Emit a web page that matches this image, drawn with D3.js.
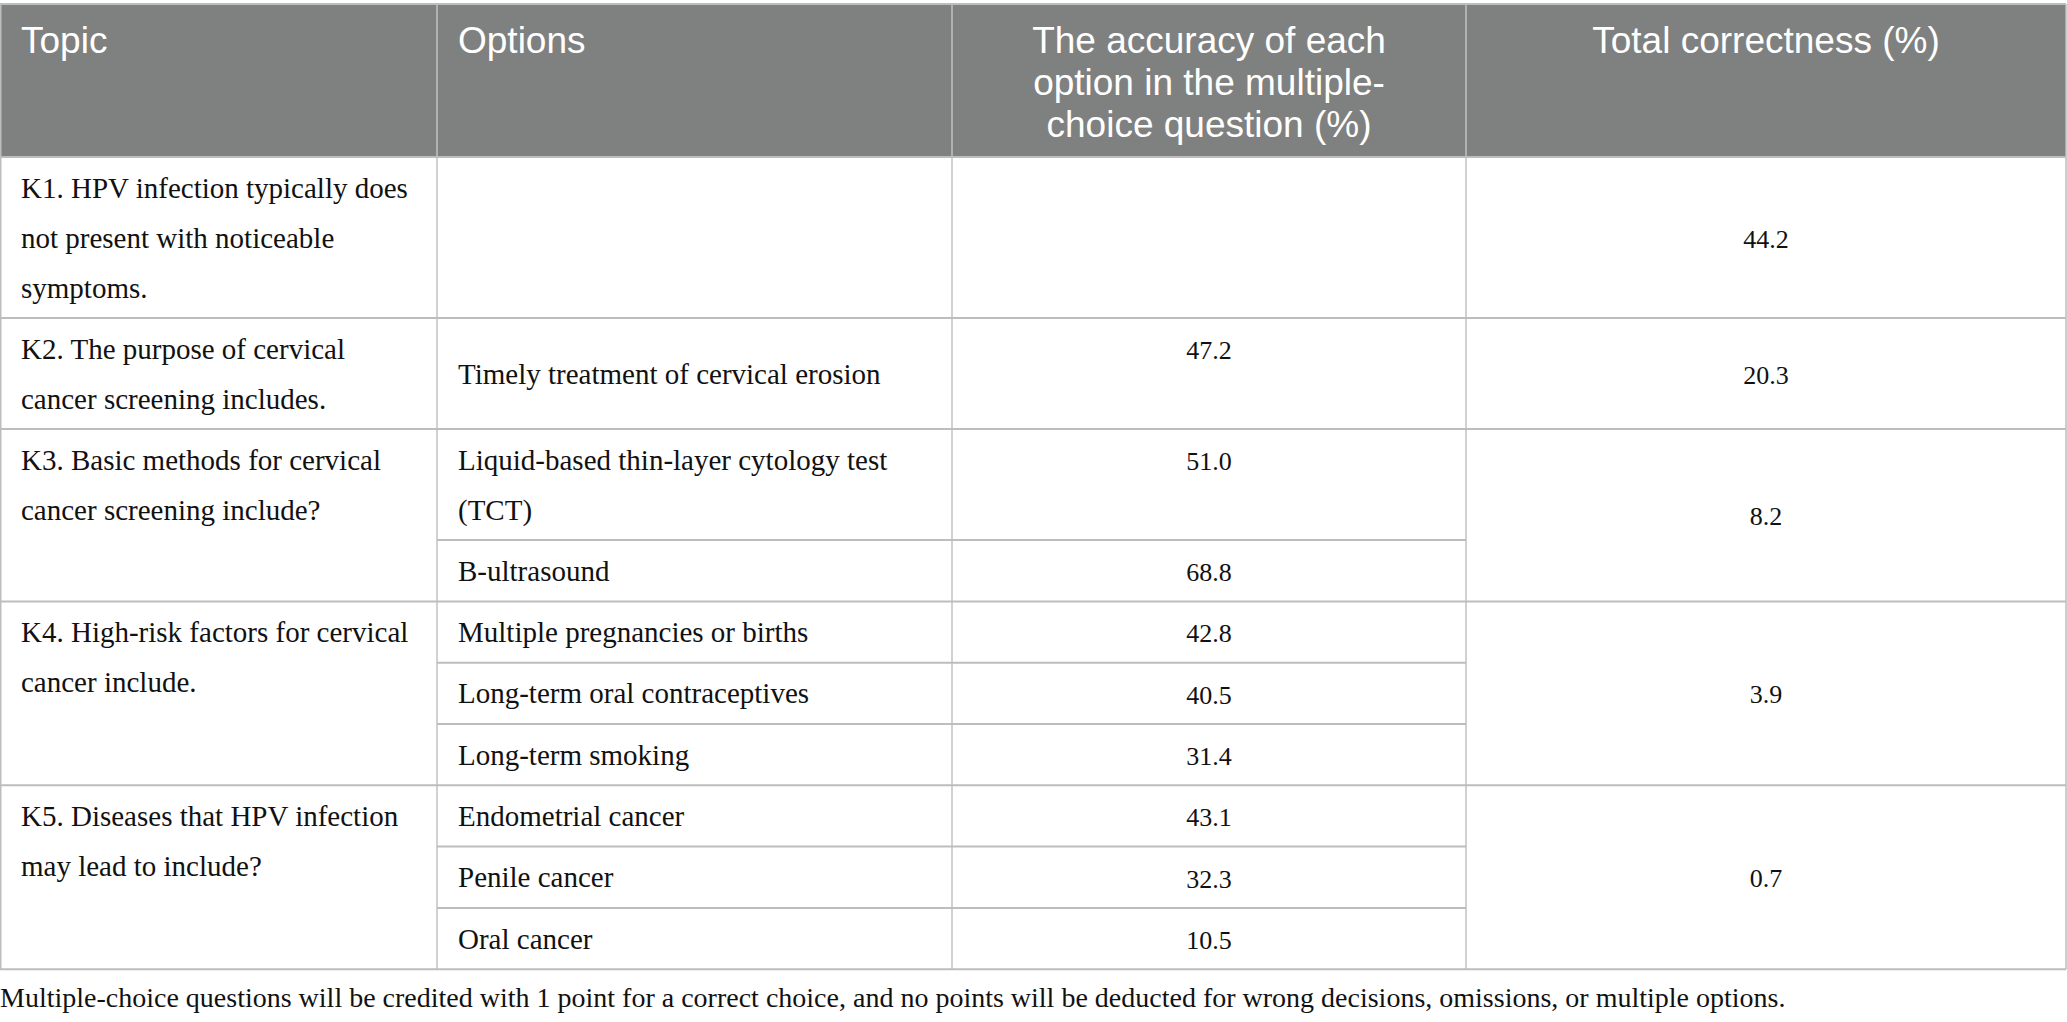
<!DOCTYPE html>
<html>
<head>
<meta charset="utf-8">
<script src="https://cdn.jsdelivr.net/npm/d3@7"></script>
<style>
  body { margin: 0; background: #fff; }
  svg { display: block; }
</style>
</head>
<body>
<div id="chart"></div>
<script>
//Table content
const headers = [
    ["Topic"],
    ["Options"],
    ["The accuracy of each", "option in the multiple-", "choice question (%)"],
    ["Total correctness (%)"]
]

const topics = [
    ["K1. HPV infection typically does", "not present with noticeable", "symptoms."],
    ["K2. The purpose of cervical", "cancer screening includes."],
    ["K3. Basic methods for cervical", "cancer screening include?"],
    ["K4. High-risk factors for cervical", "cancer include."],
    ["K5. Diseases that HPV infection", "may lead to include?"]
]

//one entry per option row, each option may wrap on several lines
const options = [
    [[]],
    [["Timely treatment of cervical erosion"]],
    [["Liquid-based thin-layer cytology test", "(TCT)"], ["B-ultrasound"]],
    [["Multiple pregnancies or births"], ["Long-term oral contraceptives"], ["Long-term smoking"]],
    [["Endometrial cancer"], ["Penile cancer"], ["Oral cancer"]]
]

const optionAccuracy = [
    [null],
    [47.2],
    [51.0, 68.8],
    [42.8, 40.5, 31.4],
    [43.1, 32.3, 10.5]
]

const totalCorrectness = [44.2, 20.3, 8.2, 3.9, 0.7]

const footnote = "Multiple-choice questions will be credited with 1 point for a correct choice, and no points will be deducted for wrong decisions, omissions, or multiple options."

//Layout constants
const width = 2067
const height = 1022
const headerTop = 4
const headerBottom = 157
const lineHeight = 49.8
const cellPad = 11.5
const topOffset = 41   //first baseline below a cell top
const lineAscent = 35  //baseline inside a line box
const gridColor = "#c2c2c2"
const serif = "'Liberation Serif', 'Times New Roman', serif"

const x = d3.scaleOrdinal()
    .domain([0, 1, 2, 3, 4])
    .range([0, 437, 952, 1466, 2066])
const colCenter = i => (x(i) + x(i + 1)) / 2
const fmt = d3.format(".1f")

//Build the sub rows: every option row gets a height from its number of lines
const rows = []
let yPos = headerBottom
topics.forEach((t, k) => {
    const nSub = options[k].length
    const subs = options[k].map((opt, j) => {
        let lines = Math.max(opt.length, 1)
        if (nSub == 1) lines = Math.max(lines, t.length)
        const h = lines * lineHeight + cellPad
        const sub = { y0: yPos, y1: yPos + h, lines: opt, value: optionAccuracy[k][j] }
        yPos += h
        return sub
    })
    rows.push({ topic: t, total: totalCorrectness[k], subs: subs, y0: subs[0].y0, y1: subs[subs.length - 1].y1 })
})
const tableBottom = yPos

const svg = d3.select("#chart")
    .append("svg")
    .attr("width", width)
    .attr("height", height)

//header band
svg.append("rect")
    .attr("x", 0)
    .attr("y", headerTop)
    .attr("width", x(4))
    .attr("height", headerBottom - headerTop)
    .attr("fill", "#7f8180")

const grid = svg.append("g")
    .attr("stroke", gridColor)

//vertical lines
grid.selectAll(".vline")
    .data([0, 1, 2, 3, 4])
    .enter().append("line")
    .attr("class", "vline")
    .attr("x1", d => d == 0 ? 0.75 : x(d))
    .attr("x2", d => d == 0 ? 0.75 : x(d))
    .attr("y1", headerTop)
    .attr("y2", tableBottom)
    .attr("stroke-width", 1.5)
    .attr("stroke", d => (d == 0 || d == 4) ? "#bdbdbd" : gridColor)

//horizontal lines across the full table
const fullLines = [headerTop, headerBottom].concat(rows.map(r => r.y1))
grid.selectAll(".hline")
    .data(fullLines)
    .enter().append("line")
    .attr("class", "hline")
    .attr("x1", 0)
    .attr("x2", x(4))
    .attr("y1", d => d)
    .attr("y2", d => d)
    .attr("stroke-width", 2)
    .attr("stroke", "#bdbdbd")

//lines between option rows (columns 2 and 3 only)
const subLines = rows.flatMap(r => r.subs.slice(0, -1).map(s => s.y1))
grid.selectAll(".subline")
    .data(subLines)
    .enter().append("line")
    .attr("class", "subline")
    .attr("x1", x(1))
    .attr("x2", x(3))
    .attr("y1", d => d)
    .attr("y2", d => d)
    .attr("stroke-width", 2)
    .attr("stroke", "#bdbdbd")

//header text
const headG = svg.append("g")
    .attr("font-family", "'Liberation Sans', Arial, sans-serif")
    .attr("font-size", 37)
    .attr("fill", "#fff")

headers.forEach((h, i) => {
    const centered = i >= 2
    h.forEach((line, j) => {
        headG.append("text")
            .attr("x", centered ? colCenter(i) : x(i) + 21)
            .attr("y", 53 + j * 42)
            .attr("text-anchor", centered ? "middle" : "start")
            .text(line)
    })
})

//body text
const body = svg.append("g")
    .attr("font-family", serif)
    .attr("font-size", 29)
    .attr("fill", "#111")

//vertically centred block of lines in a cell
function centredLines(g, lines, y0, y1, xx, anchor, size) {
    const top = (y0 + y1) / 2 - lines.length * lineHeight / 2
    lines.forEach((line, j) => {
        g.append("text")
            .attr("x", xx)
            .attr("y", top + lineAscent + j * lineHeight)
            .attr("text-anchor", anchor)
            .attr("font-size", size)
            .text(line)
    })
}

rows.forEach(r => {
    //topic, top aligned
    r.topic.forEach((line, j) => {
        body.append("text")
            .attr("x", x(0) + 21)
            .attr("y", r.y0 + topOffset + j * lineHeight)
            .text(line)
    })
    r.subs.forEach(s => {
        centredLines(body, s.lines, s.y0, s.y1, x(1) + 21, "start", 29)
        if (s.value != null) {
            body.append("text")
                .attr("x", colCenter(2))
                .attr("y", s.y0 + topOffset)
                .attr("text-anchor", "middle")
                .attr("font-size", 26)
                .text(fmt(s.value))
        }
    })
    centredLines(body, [fmt(r.total)], r.y0, r.y1, colCenter(3), "middle", 26)
})

svg.append("text")
    .attr("x", 0)
    .attr("y", 1007)
    .attr("font-family", serif)
    .attr("font-size", 28)
    .attr("fill", "#111")
    .text(footnote)
</script>
</body>
</html>
